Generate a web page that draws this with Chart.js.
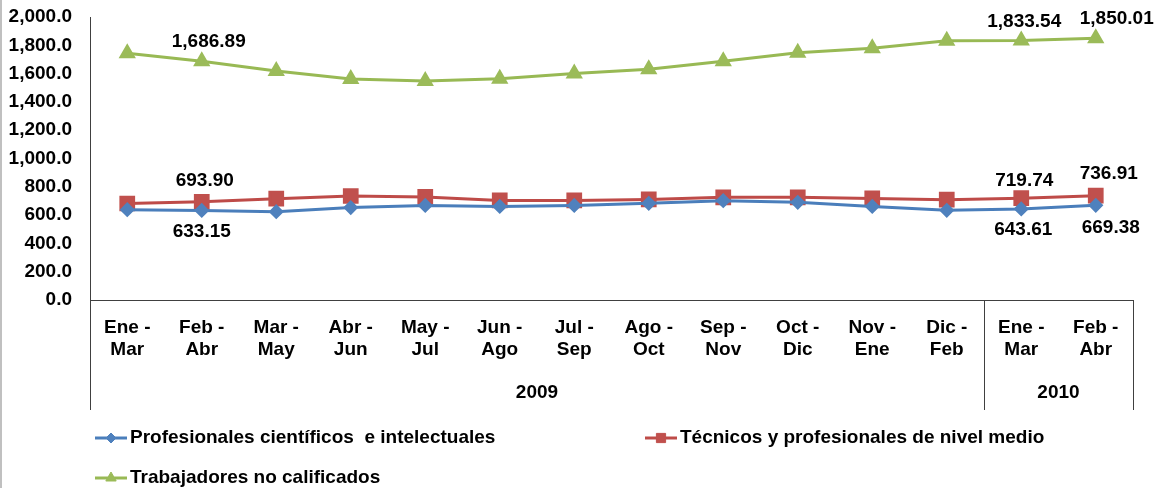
<!DOCTYPE html>
<html>
<head>
<meta charset="utf-8">
<script src="https://cdn.jsdelivr.net/npm/chart.js@4.4.0/dist/chart.umd.min.js"></script>
<style>
  body { margin: 0; background: #ffffff; }
  #wrap { position: relative; width: 1164px; height: 488px; }
</style>
</head>
<body>
<div id="wrap"><canvas id="chart"></canvas></div>
<script>
// Data
const periods = [
    ['Ene -', 'Mar'], ['Feb -', 'Abr'], ['Mar -', 'May'], ['Abr -', 'Jun'], ['May -', 'Jul'],
    ['Jun -', 'Ago'], ['Jul -', 'Sep'], ['Ago -', 'Oct'], ['Sep -', 'Nov'], ['Oct -', 'Dic'],
    ['Nov -', 'Ene'], ['Dic -', 'Feb'], ['Ene -', 'Mar'], ['Feb -', 'Abr']
];
const years = ['2009', '2010'];
const periodsPerYear = [12, 2];

const profesionales = [638, 633.15, 624, 653, 668, 661, 668, 683, 702, 690, 661, 634, 643.61, 669.38];
const tecnicos = [682, 693.90, 716, 735, 728, 704, 704, 711, 726, 726, 718, 709, 719.74, 736.91];
const trabajadores = [1743, 1686.89, 1619, 1562, 1548, 1564, 1600, 1630, 1687, 1748, 1779, 1832, 1833.54, 1850.01];

const yMin = 0;
const yMax = 2000;
const yStep = 200;

const FONT = "'Liberation Sans', Arial, sans-serif";
Chart.defaults.font.family = FONT;
Chart.defaults.color = '#000000';

// which points carry a value label, and where the label sits relative to the point
const pointLabels = [
    { ds: 2, i: 1, dx: 7, dy: -20 },
    { ds: 2, i: 12, dx: 3, dy: -19 },
    { ds: 2, i: 13, dx: 21, dy: -19 },
    { ds: 1, i: 1, dx: 3, dy: -21 },
    { ds: 1, i: 12, dx: 3, dy: -17 },
    { ds: 1, i: 13, dx: 13, dy: -22 },
    { ds: 0, i: 1, dx: 0, dy: 21 },
    { ds: 0, i: 12, dx: 2, dy: 21 },
    { ds: 0, i: 13, dx: 15, dy: 22 }
];

const valueLabels = {
    id: 'valueLabels',
    afterDatasetsDraw(chart) {
        const ctx = chart.ctx;
        ctx.save();
        ctx.font = 'bold 19px ' + FONT;
        ctx.fillStyle = '#000000';
        ctx.textAlign = 'center';
        ctx.textBaseline = 'middle';
        pointLabels.forEach(l => {
            const pt = chart.getDatasetMeta(l.ds).data[l.i];
            const v = chart.data.datasets[l.ds].data[l.i];
            const txt = v.toLocaleString('en-US', { minimumFractionDigits: 2, maximumFractionDigits: 2 });
            ctx.fillText(txt, pt.x + l.dx, pt.y + l.dy);
        });
        ctx.restore();
    }
};

// year groups under the period labels
const yearGroups = {
    id: 'yearGroups',
    afterDraw(chart) {
        const ctx = chart.ctx;
        const area = chart.chartArea;
        const xs = chart.scales.x;
        const lineBottom = area.bottom + 110;
        ctx.save();
        ctx.strokeStyle = '#404040';
        ctx.lineWidth = 1;
        ctx.font = 'bold 19px ' + FONT;
        ctx.fillStyle = '#000000';
        ctx.textAlign = 'center';
        ctx.textBaseline = 'middle';

        let start = 0;
        let left = area.left;
        const edges = [left];
        years.forEach((yr, k) => {
            const end = start + periodsPerYear[k];
            const right = end < periods.length
                ? (xs.getPixelForValue(end - 1) + xs.getPixelForValue(end)) / 2
                : area.right;
            edges.push(right);
            ctx.fillText(yr, (left + right) / 2, area.bottom + 93);
            left = right;
            start = end;
        });
        edges.forEach(x => {
            const px = Math.round(x) + 0.5;
            ctx.beginPath();
            ctx.moveTo(px, area.bottom);
            ctx.lineTo(px, lineBottom);
            ctx.stroke();
        });

        // light frame edge at the far left
        ctx.fillStyle = '#c0c0c0';
        ctx.fillRect(0, 0, 2, chart.height);
        ctx.restore();
    }
};

// legend laid out like the original: two items on the first row, one below
const bottomLegend = {
    id: 'bottomLegend',
    afterDraw(chart) {
        const ctx = chart.ctx;
        const spots = [[95, 438], [645, 438], [95, 478]];
        const markerSize = [5, 6.5, 6];
        chart.data.datasets.forEach((ds, i) => {
            const [x, y] = spots[i];
            ctx.save();
            ctx.strokeStyle = ds.borderColor;
            ctx.lineWidth = 3;
            ctx.beginPath();
            ctx.moveTo(x, y);
            ctx.lineTo(x + 32, y);
            ctx.stroke();
            ctx.fillStyle = ds.pointBackgroundColor;
            ctx.strokeStyle = ds.pointBackgroundColor;
            ctx.lineWidth = 1;
            Chart.helpers.drawPoint(ctx, { pointStyle: ds.pointStyle, radius: markerSize[i], borderWidth: 1, rotation: 0 }, x + 16, y);
            ctx.font = 'bold 19px ' + FONT;
            ctx.fillStyle = '#000000';
            ctx.textAlign = 'left';
            ctx.textBaseline = 'middle';
            ctx.fillText(ds.label, x + 35, y);
            ctx.restore();
        });
    }
};

const ctx = document.getElementById('chart').getContext('2d');
const chart = new Chart(ctx, {
    type: 'line',
    data: {
        labels: periods,
        datasets: [{
            label: 'Profesionales científicos  e intelectuales',
            data: profesionales,
            borderColor: '#4A7EBB',
            borderWidth: 3,
            pointStyle: 'rectRot',
            pointRadius: 5.5,
            pointBackgroundColor: '#4F81BD',
            pointBorderColor: '#4F81BD',
            tension: 0
        },
        {
            label: 'Técnicos y profesionales de nivel medio',
            data: tecnicos,
            borderColor: '#BE4B48',
            borderWidth: 3,
            pointStyle: 'rect',
            pointRadius: 9,
            pointBackgroundColor: '#C0504D',
            pointBorderColor: '#C0504D',
            tension: 0
        },
        {
            label: 'Trabajadores no calificados',
            data: trabajadores,
            borderColor: '#98B954',
            borderWidth: 3,
            pointStyle: 'triangle',
            pointRadius: 7,
            pointBackgroundColor: '#9BBB59',
            pointBorderColor: '#9BBB59',
            tension: 0
        }]
    },
    options: {
        responsive: true,
        maintainAspectRatio: false,
        animation: false,
        layout: {
            padding: { top: 17, right: 31, bottom: 0, left: 0 }
        },
        plugins: {
            legend: { display: false },
            tooltip: { enabled: false }
        },
        scales: {
            x: {
                offset: true,
                afterFit: scale => { scale.height = 188; },
                grid: { display: false, drawTicks: false },
                border: { display: true, color: '#404040', width: 1 },
                ticks: {
                    autoSkip: false,
                    maxRotation: 0,
                    padding: 17,
                    color: '#000000',
                    font: { size: 19, weight: 'bold', lineHeight: 1.15 }
                }
            },
            y: {
                min: yMin,
                max: yMax,
                afterFit: scale => {
                    scale.width = 90;
                    scale.paddingTop = 0;
                    scale.paddingBottom = 0;
                },
                grid: { display: false, drawTicks: false },
                border: { display: true, color: '#404040', width: 1 },
                ticks: {
                    stepSize: yStep,
                    padding: 18,
                    color: '#000000',
                    font: { size: 19, weight: 'bold' },
                    callback: v => v.toLocaleString('en-US', { minimumFractionDigits: 1, maximumFractionDigits: 1 })
                }
            }
        }
    },
    plugins: [valueLabels, yearGroups, bottomLegend]
});
</script>
</body>
</html>
